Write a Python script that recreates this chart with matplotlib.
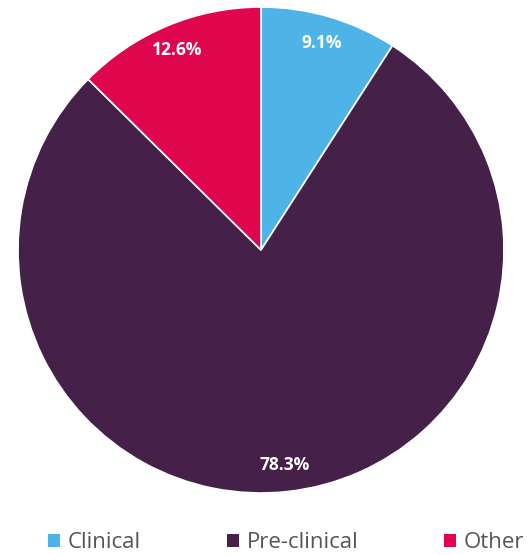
import matplotlib
matplotlib.use('Agg')
import matplotlib.pyplot as plt
from matplotlib.patches import Patch

plt.rcParams['font.family'] = ['Open Sans', 'DejaVu Sans']

# Données
categories = ["Clinical", "Pre-clinical", "Other"]
shares = [9.1, 78.3, 12.6]
colors = ["#4EB3E6", "#45214A", "#E0064E"]

fig = plt.figure(figsize=(5.28, 5.55), dpi=100)
ax = fig.add_axes([18 / 528, 62 / 555, 486 / 528, 486 / 555])

wedges, texts, autotexts = ax.pie(
    shares, colors=colors, startangle=90, counterclock=False,
    autopct="%.1f%%", pctdistance=0.89, radius=1.0,
    wedgeprops=dict(edgecolor="white", linewidth=1.2),
    textprops=dict(color="white", fontsize=12.5, fontweight="bold"))
ax.set_xlim(-1, 1)
ax.set_ylim(-1, 1)
ax.set_aspect("equal")

# Légende en bas (coupée à droite comme dans l'original)
handles = [Patch(facecolor=c, edgecolor="none") for c in colors]
fig.legend(handles, categories, loc="center left",
           bbox_to_anchor=(48 / 528, 1 - 543 / 555), ncol=3, frameon=False,
           fontsize=16, labelcolor="#555555", handlelength=0.55,
           handleheight=0.55, handletextpad=0.35, columnspacing=3.85,
           borderpad=0, borderaxespad=0)

fig.savefig("out.png", dpi=100)
